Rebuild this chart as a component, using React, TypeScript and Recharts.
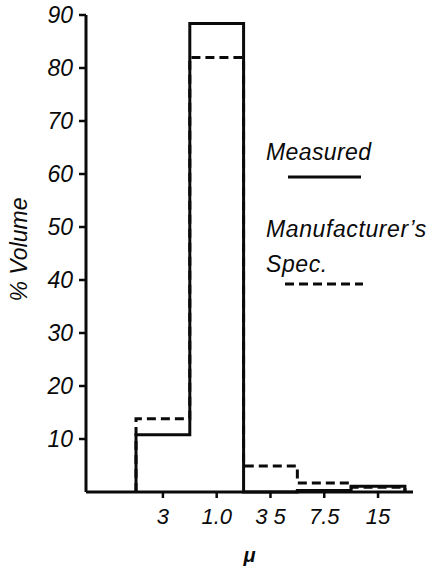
import React from 'react';
import { ComposedChart, Line, XAxis, YAxis, Legend } from 'recharts';

// Bin edges (bin index units) and size-class labels
const binEdges = [1, 2, 3, 4, 5, 6];
const sizeLabels = ['3', '1.0', '3 5', '7.5', '15'];
const tickCenters = [1.5, 2.5, 3.5, 4.5, 5.5];

// % Volume per bin
const measured = [10.8, 88.4, 0, 0.3, 1.1];
const manufacturerSpec = [13.8, 82.0, 4.9, 1.7, 0.9];

const yTicks = [10, 20, 30, 40, 50, 60, 70, 80, 90];

function stepPoints(values: number[]) {
  const pts: { x: number; y: number }[] = [{ x: binEdges[0], y: 0 }];
  values.forEach((v, i) => pts.push({ x: binEdges[i], y: v }));
  const n = values.length;
  pts.push({ x: binEdges[n], y: values[n - 1] });
  pts.push({ x: binEdges[n], y: 0 });
  return pts;
}

const measuredPts = stepPoints(measured);
const specPts = stepPoints(manufacturerSpec);

const FONT = '"Liberation Sans", Arial, Helvetica, sans-serif';
const INK = '#0a0a0a';

const xTickStyle = {
  fontFamily: FONT,
  fontStyle: 'italic' as const,
  fontSize: 22,
  fill: INK,
};

const yTickStyle = {
  fontFamily: FONT,
  fontStyle: 'italic' as const,
  fontSize: 23,
  fill: INK,
};

const LegendBox = () => (
  <div style={{ position: 'relative', width: 0, height: 0, overflow: 'visible', fontFamily: FONT, fontStyle: 'italic', color: INK }}>
    <div style={{ position: 'absolute', left: 266, top: 139, fontSize: 23, lineHeight: '26px', letterSpacing: 0.4, whiteSpace: 'nowrap' }}>Measured</div>
    <svg style={{ position: 'absolute', left: 0, top: 0, overflow: 'visible' }} width={435} height={572}>
      <line x1={288} x2={361} y1={177} y2={177} stroke={INK} strokeWidth={3} />
      <line x1={285} x2={363} y1={284} y2={284} stroke={INK} strokeWidth={3} strokeDasharray="9 5" />
    </svg>
    <div style={{ position: 'absolute', left: 266, top: 212, fontSize: 23, lineHeight: '35px', letterSpacing: 0.6, whiteSpace: 'nowrap' }}>
      Manufacturer’s
      <br />
      Spec.
    </div>
  </div>
);

const YLabel = (props: any) => {
  const vb = props.viewBox || { x: 0, y: 0, width: 0, height: 0 };
  const cx = vb.x + 27;
  const cy = vb.y + vb.height / 2 - 4;
  return (
    <text
      x={cx}
      y={cy}
      transform={`rotate(-90, ${cx}, ${cy})`}
      textAnchor="middle"
      style={{ fontFamily: FONT, fontStyle: 'italic', fontSize: 23, fill: INK }}
    >
      % Volume
    </text>
  );
};

export default function App() {
  return (
    <div style={{ position: 'absolute', left: 0, top: 0, width: 435, height: 572, background: '#fff' }}>
      <ComposedChart width={435} height={572} margin={{ top: 15, right: 22, bottom: 40, left: 0 }}>
        <XAxis
          type="number"
          dataKey="x"
          domain={[0.07, 6.15]}
          allowDataOverflow
          ticks={tickCenters}
          tickFormatter={(v: number) => sizeLabels[tickCenters.indexOf(v)] ?? ''}
          tick={xTickStyle}
          tickSize={6}
          tickMargin={10}
          height={40}
          axisLine={{ stroke: INK, strokeWidth: 3 }}
          tickLine={{ stroke: INK, strokeWidth: 2.5 }}
          interval={0}
          label={{
            value: 'μ',
            position: 'bottom',
            offset: 16,
            style: { fontFamily: FONT, fontStyle: 'italic', fontWeight: 'bold', fontSize: 20, fill: INK },
          }}
        />
        <YAxis
          type="number"
          domain={[0, 90]}
          ticks={yTicks}
          width={86}
          tick={yTickStyle}
          tickSize={7}
          tickMargin={6}
          axisLine={{ stroke: INK, strokeWidth: 3 }}
          tickLine={{ stroke: INK, strokeWidth: 2.5 }}
          interval={0}
          label={<YLabel />}
        />
        <Line
          data={measuredPts}
          dataKey="y"
          type="stepAfter"
          stroke={INK}
          strokeWidth={3}
          dot={false}
          activeDot={false}
          isAnimationActive={false}
        />
        <Line
          data={specPts}
          dataKey="y"
          type="stepAfter"
          stroke={INK}
          strokeWidth={3}
          strokeDasharray="9 5"
          dot={false}
          activeDot={false}
          isAnimationActive={false}
        />
        <Legend
          content={<LegendBox />}
          verticalAlign="top"
          wrapperStyle={{ position: 'absolute', left: 0, top: 0, width: 0, height: 0, overflow: 'visible', pointerEvents: 'none' }}
        />
      </ComposedChart>
    </div>
  );
}
